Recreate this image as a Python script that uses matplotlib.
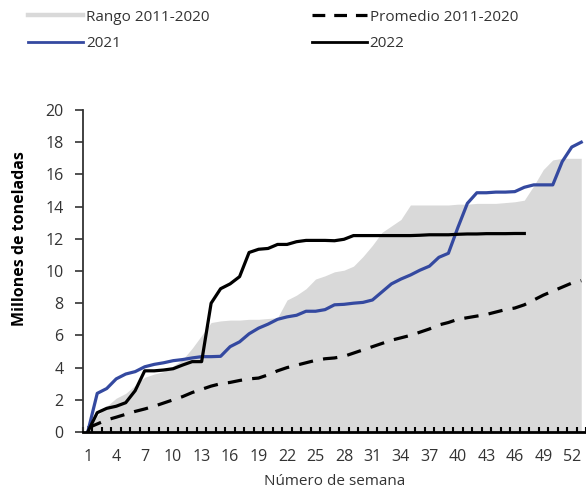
import numpy as np
import matplotlib
matplotlib.use('Agg')
import matplotlib.pyplot as plt
from matplotlib.lines import Line2D

plt.rcParams['font.family'] = ['Open Sans', 'DejaVu Sans']

weeks = list(range(1, 54))

rango_min = [0.0] * 53
rango_max = [0.0, 1.0, 1.6, 2.1, 2.4, 2.9, 3.4, 3.6, 3.75, 4.1,
             4.5, 5.2, 6.0, 6.8, 6.9, 6.95, 6.95, 7.0, 7.0, 7.05,
             7.1, 8.2, 8.5, 8.9, 9.5, 9.7, 9.95, 10.05, 10.3, 10.9,
             11.6, 12.4, 12.8, 13.2, 14.1, 14.1, 14.1, 14.1, 14.1, 14.15,
             14.15, 14.2, 14.2, 14.2, 14.25, 14.3, 14.4, 15.3, 16.3, 16.9,
             17.0, 17.0, 17.0]
promedio = [0.25, 0.5, 0.75, 0.92, 1.1, 1.28, 1.43, 1.6, 1.8, 2.0,
            2.2, 2.45, 2.65, 2.85, 3.0, 3.08, 3.2, 3.3, 3.35, 3.55,
            3.8, 4.0, 4.15, 4.3, 4.45, 4.55, 4.6, 4.7, 4.9, 5.1,
            5.3, 5.5, 5.7, 5.85, 6.0, 6.2, 6.4, 6.65, 6.8, 7.0,
            7.1, 7.2, 7.3, 7.45, 7.6, 7.7, 7.9, 8.2, 8.5, 8.75,
            9.0, 9.25, 9.4]
y2021 = [0.0, 2.4, 2.7, 3.3, 3.6, 3.75, 4.05, 4.2, 4.3, 4.43,
         4.5, 4.6, 4.68, 4.68, 4.7, 5.3, 5.6, 6.1, 6.45, 6.7,
         7.0, 7.15, 7.25, 7.5, 7.5, 7.6, 7.9, 7.93, 8.0, 8.05,
         8.2, 8.7, 9.2, 9.5, 9.75, 10.05, 10.3, 10.85, 11.1, 12.7,
         14.2, 14.86, 14.86, 14.9, 14.9, 14.93, 15.2, 15.35, 15.35, 15.35,
         16.8, 17.7, 18.0]
y2022 = [0.0, 1.2, 1.47, 1.6, 1.82, 2.57, 3.8, 3.8, 3.85, 3.93,
         4.16, 4.37, 4.37, 8.0, 8.9, 9.2, 9.65, 11.15, 11.35, 11.4,
         11.65, 11.65, 11.82, 11.9, 11.9, 11.9, 11.88, 11.97, 12.2, 12.2,
         12.2, 12.2, 12.2, 12.2, 12.2, 12.22, 12.25, 12.25, 12.25, 12.28,
         12.3, 12.3, 12.32, 12.32, 12.32, 12.33, 12.33]

tick_weeks = list(range(1, 54, 3))

text_color = '#333333'
gray = '#d9d9d9'
blue = '#3449a0'

fig = plt.figure(figsize=(5.86, 4.91), dpi=100)
ax = fig.add_axes([83 / 586, 59 / 491, 503 / 586, 322 / 491])

ax.fill_between(weeks, rango_min, rango_max, color=gray, linewidth=0)
ax.plot(weeks, promedio, color='black', lw=2.3, dashes=(4.5, 3.2))
ax.plot(weeks, y2021, color=blue, lw=2.3)
ax.plot(weeks[:len(y2022)], y2022, color='black', lw=2.3)

ax.set_xlim(0.5, 53.5)
ax.set_ylim(0, 20)
ax.set_yticks(range(0, 21, 2))
ax.set_xticks(tick_weeks)
ax.set_xticklabels([str(w) for w in tick_weeks])
ax.set_xticks(np.arange(0.5, 54, 1), minor=True)

for s in ['top', 'right']:
    ax.spines[s].set_visible(False)
ax.spines['left'].set_linewidth(1.3)
ax.spines['bottom'].set_linewidth(2.0)
ax.spines['left'].set_color('#333333')
ax.spines['bottom'].set_color('black')

ax.tick_params(axis='y', direction='out', length=6, width=1.2, pad=8,
               labelsize=11.5, colors=text_color)
ax.tick_params(axis='x', which='major', length=0, pad=12,
               labelsize=11.5, colors=text_color)
ax.tick_params(axis='x', which='minor', direction='in', length=3.5,
               width=1.5, color='black')

ax.set_xlabel('Número de semana', fontsize=11, color=text_color, labelpad=7)
ax.set_ylabel('Millones de toneladas', fontsize=11.5, fontweight='bold',
              color='black')
ax.yaxis.set_label_coords(-0.11, 0.6)

# legend proxies
handles = [
    Line2D([], [], color=gray, lw=3.2),
    Line2D([], [], color=blue, lw=2.0),
    Line2D([], [], color='black', lw=2.3, dashes=(4.0, 2.8)),
    Line2D([], [], color='black', lw=2.0),
]
labels = ['Rango 2011-2020', '2021', 'Promedio 2011-2020', '2022']
fig.legend(handles, labels,
           loc='upper left', bbox_to_anchor=(0.025, 1.008), ncol=2,
           frameon=False, fontsize=11, handlelength=3.6, handletextpad=0.2,
           columnspacing=6.65, labelspacing=0.75, labelcolor=text_color)

fig.savefig('out.png', dpi=100)
